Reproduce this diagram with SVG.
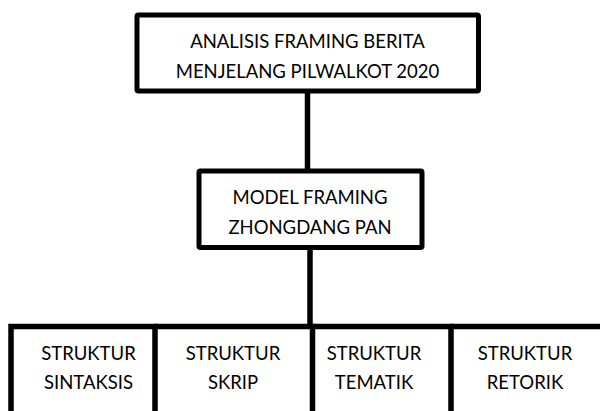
<svg xmlns="http://www.w3.org/2000/svg" width="600" height="411" viewBox="0 0 600 411">
<style>
.box{fill:#fff;stroke:#000;stroke-width:5}
.ln{stroke:#000;stroke-width:5.5;fill:none}
text{font-family:Lato,"Liberation Sans",sans-serif;font-size:18.5px;fill:#000;text-anchor:middle}
</style>
<rect width="600" height="411" fill="#fff"/>
<g id="connectors">
<line class="ln" x1="307.5" y1="91" x2="307.5" y2="171"/>
<line class="ln" x1="310" y1="247.5" x2="310" y2="326"/>
</g>
<g id="top">
<rect class="box" x="137" y="15" width="341.5" height="76" rx="1.5"/>
<text x="307.5" y="47.7">ANALISIS FRAMING BERITA</text>
<text x="307.5" y="78.3">MENJELANG PILWALKOT 2020</text>
</g>
<g id="model">
<rect class="box" x="199" y="171" width="223" height="76.5" rx="1.5"/>
<text x="310" y="204.3">MODEL FRAMING</text>
<text x="310" y="234.3">ZHONGDANG PAN</text>
</g>
<g id="sintaksis">
<path class="ln" d="M11 420V326.5H155V420"/>
<text x="88.5" y="360">STRUKTUR</text>
<text x="88.5" y="389">SINTAKSIS</text>
</g>
<g id="skrip">
<path class="ln" d="M155 326.5H312.5V420"/>
<text x="233" y="360">STRUKTUR</text>
<text x="233" y="389">SKRIP</text>
</g>
<g id="tematik">
<path class="ln" d="M312.5 326.5H451V420"/>
<text x="374" y="360">STRUKTUR</text>
<text x="374" y="389">TEMATIK</text>
</g>
<g id="retorik">
<path class="ln" d="M451 326.5H605"/>
<text x="525" y="360">STRUKTUR</text>
<text x="525" y="389">RETORIK</text>
</g>
</svg>
